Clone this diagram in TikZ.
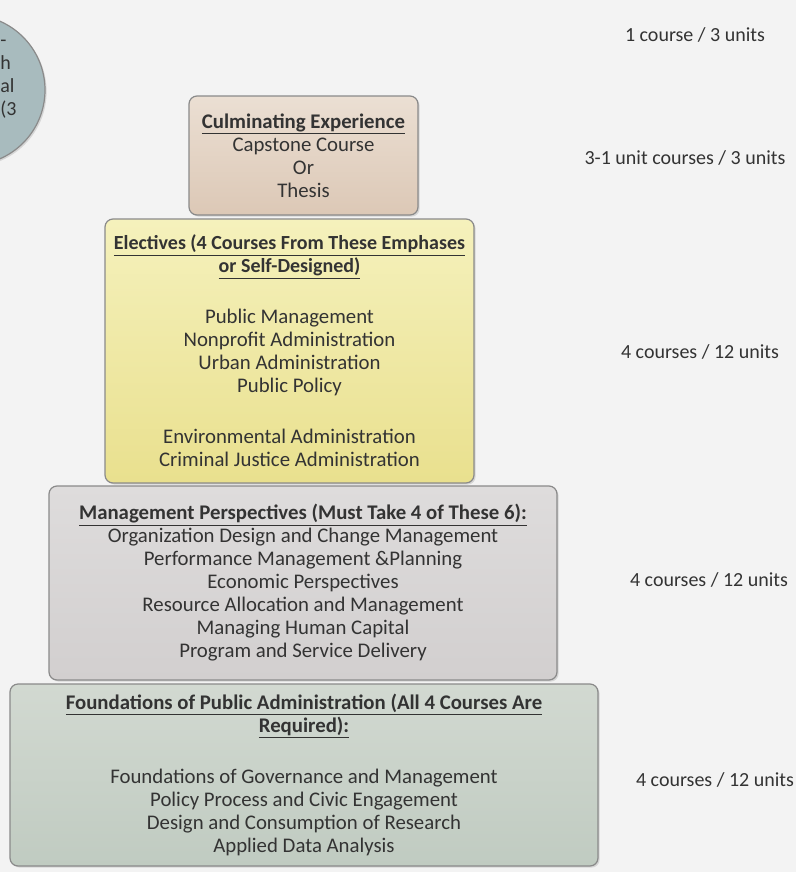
\documentclass[tikz,border=0pt]{standalone}
\usepackage{fontspec}
\setmainfont{Carlito}
\usepackage{tikz}
\usetikzlibrary{shadows}

\definecolor{bgcol}{HTML}{F3F3F3}
\definecolor{inkcol}{HTML}{333333}
\definecolor{edgecol}{HTML}{8A8A8A}
\definecolor{circcol}{HTML}{A8BBBE}
\definecolor{tanA}{HTML}{EBDFD3}
\definecolor{tanB}{HTML}{DCC8B6}
\definecolor{yelA}{HTML}{F5F1BC}
\definecolor{yelB}{HTML}{E9E08E}
\definecolor{grayA}{HTML}{DEDCDC}
\definecolor{grayB}{HTML}{D2CFCF}
\definecolor{grnA}{HTML}{D2D9D1}
\definecolor{grnB}{HTML}{C0CBC1}

\begin{document}
\begin{tikzpicture}[
    x=0.75pt, y=-0.75pt,
    tierbox/.style={draw=edgecol, line width=0.9pt, rounded corners=6pt,
                    align=center, text=inkcol, inner sep=0pt,
                    font=\fontsize{15.6}{17.25}\selectfont,
                    drop shadow={opacity=0.25, shadow xshift=1.2pt, shadow yshift=-1.2pt}},
    capbox/.style={tierbox, top color=tanA, bottom color=tanB},
    electbox/.style={tierbox, top color=yelA, bottom color=yelB},
    mgmtbox/.style={tierbox, top color=grayA, bottom color=grayB},
    foundbox/.style={tierbox, top color=grnA, bottom color=grnB},
    unitlabel/.style={text=inkcol, font=\fontsize{15}{17.25}\selectfont},
  ]

  % background and frame
  \fill[bgcol] (0,0) rectangle (796,872);
  \useasboundingbox (0,0) rectangle (796,872);
  \clip (0,0) rectangle (796,872);

  % === Cut-off circle (top left) ===
  \node[circle, draw=edgecol, line width=0.9pt, fill=circcol, minimum size=112.5pt,
        drop shadow={opacity=0.25, shadow xshift=1.2pt, shadow yshift=-1.2pt}] (side) at (-30,90) {};
  \node[unitlabel, anchor=north west, align=left, inner sep=0pt] (sidetxt) at (0,40)
    {-\\h\\al\\(3};

  % === Tiers of the pyramid ===
  \node[capbox, minimum width=171.75pt, minimum height=89.25pt] (cap) at (303.5,155.5)
    {\underline{\textbf{Culminating Experience}}\\
     Capstone Course\\ Or\\ Thesis};

  \node[electbox, minimum width=276.75pt, minimum height=198pt] (elect) at (289.5,351)
    {\underline{\textbf{\fontsize{15}{17.25}\selectfont Electives (4 Courses From These Emphases}}\\
     \underline{\textbf{\fontsize{15}{17.25}\selectfont or Self-Designed)}}\\[21pt]
     Public Management\\ Nonprofit Administration\\ Urban Administration\\ Public Policy\\[21pt]
     Environmental Administration\\ Criminal Justice Administration};

  \node[mgmtbox, minimum width=381pt, minimum height=145.5pt] (mgmt) at (303,583)
    {\underline{\textbf{Management Perspectives (Must Take 4 of These 6):}}\\
     Organization Design and Change Management\\
     Performance Management \&Planning\\
     Economic Perspectives\\
     Resource Allocation and Management\\
     Managing Human Capital\\
     Program and Service Delivery};

  \node[foundbox, minimum width=441pt, minimum height=136.5pt] (found) at (304,775)
    {\underline{\textbf{Foundations of Public Administration (All 4 Courses Are}}\\
     \underline{\textbf{Required):}}\\[21pt]
     Foundations of Governance and Management\\
     Policy Process and Civic Engagement\\
     Design and Consumption of Research\\
     Applied Data Analysis};

  % === Units per tier ===
  \node[unitlabel] (u1) at (695,35) {1 course / 3 units};
  \node[unitlabel] (u2) at (685,158) {3-1 unit courses / 3 units};
  \node[unitlabel] (u3) at (700,352) {4 courses / 12 units};
  \node[unitlabel] (u4) at (709,580) {4 courses / 12 units};
  \node[unitlabel] (u5) at (715,780) {4 courses / 12 units};

\end{tikzpicture}
\end{document}
